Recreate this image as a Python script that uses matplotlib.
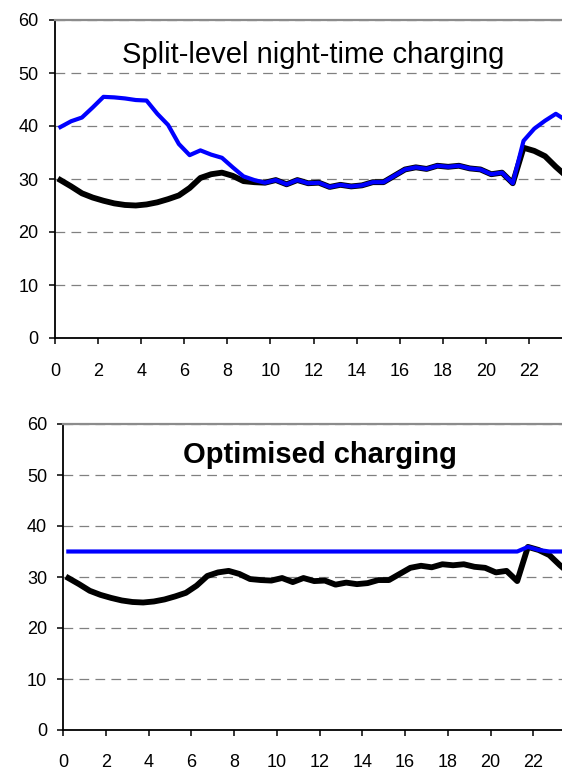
import numpy as np
import matplotlib
matplotlib.use('Agg')
import matplotlib.pyplot as plt

plt.rcParams['font.family'] = ['Liberation Sans', 'DejaVu Sans']
plt.rcParams['lines.scale_dashes'] = False

# half-hourly profile, points sit in the middle of each half-hour slot
hours = np.arange(48) * 0.5 + 0.25

base_load = [29.8, 28.6, 27.3, 26.5, 25.9, 25.4, 25.1, 25.0, 25.2, 25.6,
             26.2, 26.9, 28.3, 30.2, 30.9, 31.2, 30.6, 29.6, 29.4, 29.3,
             29.8, 29.0, 29.8, 29.2, 29.3, 28.5, 28.9, 28.6, 28.8, 29.4,
             29.4, 30.6, 31.8, 32.2, 31.9, 32.5, 32.3, 32.5, 32.0, 31.8,
             30.9, 31.2, 29.2, 35.9, 35.3, 34.3, 32.3, 30.5]

split_level = [39.8, 40.9, 41.6, 43.5, 45.5, 45.4, 45.2, 44.9, 44.8, 42.3,
               40.2, 36.6, 34.5, 35.4, 34.6, 34.0, 32.2, 30.5, 29.8, 29.3,
               29.8, 29.0, 29.8, 29.2, 29.3, 28.5, 28.9, 28.6, 28.8, 29.4,
               29.4, 30.6, 31.8, 32.2, 31.9, 32.5, 32.3, 32.5, 32.0, 31.8,
               30.9, 31.2, 29.2, 37.2, 39.5, 41.0, 42.3, 41.0]

optimised = [35.0] * 43 + [35.9, 35.3, 35.0, 35.0, 35.0]

titles = ['Split-level night-time charging', 'Optimised charging']
weights = ['normal', 'bold']
blue_series = [split_level, optimised]

fig = plt.figure(figsize=(5.62, 7.71), dpi=100)
# axes run to 24 h, the right part falls outside the picture
ax_top = fig.add_axes([55 / 562, 1 - 338 / 771, (572 - 55) / 562, 318 / 771])
ax_bot = fig.add_axes([63 / 562, 1 - 730 / 771, (576 - 63) / 562, 306 / 771])

for ax, title, weight, blue, ypad, xpad, tb in zip(
        [ax_top, ax_bot], titles, weights, blue_series,
        [8, 7.5], [14, 13], [0.865, 0.8725]):
    ax.plot(hours, base_load, color='black', lw=4.2, solid_joinstyle='round', zorder=3)
    ax.plot(hours, blue, color='#0000FF', lw=3.0, solid_joinstyle='round', zorder=4)
    ax.set_xlim(0, 24)
    ax.set_ylim(0, 60)
    ax.set_xticks(np.arange(0, 23, 2))
    ax.set_yticks(np.arange(0, 61, 10))
    ax.yaxis.grid(True, color='#808080', lw=0.9, linestyle=(0, (7, 4.5)))
    ax.set_axisbelow(True)
    ax.tick_params(axis='both', direction='out', length=4, width=1.1,
                   labelsize=13, colors='black')
    ax.tick_params(axis='y', pad=ypad)
    ax.tick_params(axis='x', pad=xpad)
    for s in ['left', 'bottom']:
        ax.spines[s].set_color('black')
        ax.spines[s].set_linewidth(1.3)
    for s in ['top', 'right']:
        ax.spines[s].set_color('#8c8c8c')
        ax.spines[s].set_linewidth(1.6)
    ax.text(0.5, tb, title, transform=ax.transAxes, ha='center', va='baseline',
            fontsize=21, fontweight=weight)

fig.savefig('out.png', dpi=100)
